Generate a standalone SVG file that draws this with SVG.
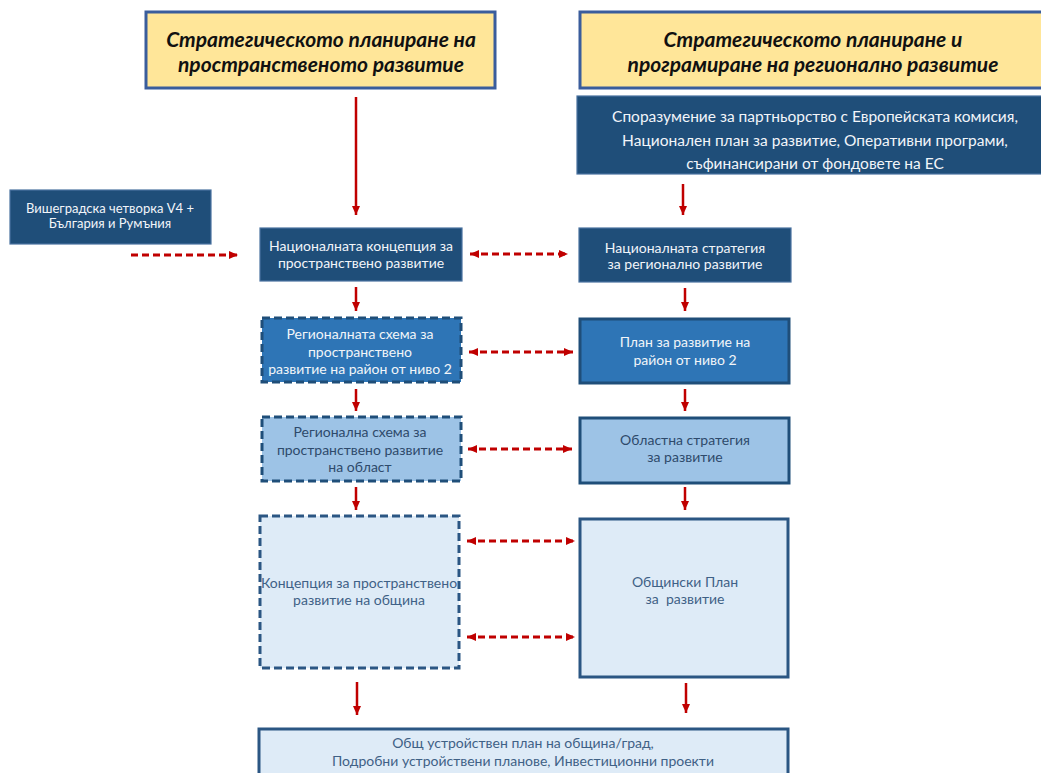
<svg xmlns="http://www.w3.org/2000/svg" width="1041" height="773" viewBox="0 0 1041 773">
<style>
text{font-family:Lato,"Open Sans","Liberation Sans",sans-serif;text-anchor:middle}
.title{font-size:21px;font-weight:bold;font-style:italic;fill:#111}
.yel{fill:#FFE699;stroke:#3A5D9C;stroke-width:3}
.dark{fill:#1F4E79;stroke:#4A72A0;stroke-width:1.2}
.med{fill:#2E75B6;stroke:#1F4E79;stroke-width:3}
.lt{fill:#9DC3E6;stroke:#1F4E79;stroke-width:3}
.vlt{fill:#DEEBF7;stroke:#2B5683;stroke-width:3}
.dsh{stroke-dasharray:8 4}
.w{fill:#F2F5F9;font-size:14px}
.d{fill:#2E4A6B;font-size:14px}
.c{fill:#3F6186;font-size:14px}
.sol{stroke:#C00000;stroke-width:2.5;fill:none;marker-end:url(#ah)}
.dash{stroke:#C00000;stroke-width:2.8;fill:none;stroke-dasharray:7 4}
</style>
<defs>
<marker id="ah" markerUnits="userSpaceOnUse" markerWidth="10" markerHeight="10" refX="9" refY="5" orient="auto"><path d="M0,1 L9,5 L0,9 Z" fill="#C00000"/></marker>
<marker id="as" markerUnits="userSpaceOnUse" markerWidth="10" markerHeight="10" refX="1" refY="5" orient="auto"><path d="M10,1 L1,5 L10,9 Z" fill="#C00000"/></marker>
</defs>
<g id="title-left"><rect class="yel" x="146" y="12" width="349" height="76"/><text class="title" x="321" y="47">Стратегическото планиране на</text><text class="title" x="321" y="72">пространственото развитие</text></g>
<g id="title-right"><rect class="yel" x="580" y="12" width="470" height="76"/><text class="title" x="813" y="47">Стратегическото планиране и</text><text class="title" x="813" y="72">програмиране на регионално развитие</text></g>
<g id="partnership"><rect class="dark" x="577" y="96" width="470" height="78"/><text class="w" style="font-size:15.5px" x="815" y="122">Споразумение за партньорство с Европейската комисия,</text><text class="w" style="font-size:15.5px" x="815" y="146">Национален план за развитие, Оперативни програми,</text><text class="w" style="font-size:15.5px" x="815" y="169">съфинансирани от фондовете на ЕС</text></g>
<g id="v4"><rect class="dark" x="10" y="190" width="201" height="54"/><text class="w" style="font-size:13px" x="110" y="213">Вишеградска четворка V4 +</text><text class="w" style="font-size:13px" x="110" y="228">България и Румъния</text></g>
<g id="nat-concept"><rect class="dark" x="260" y="228" width="202" height="53"/><text class="w" x="361" y="251">Националната концепция за</text><text class="w" x="361" y="268">пространствено развитие</text></g>
<g id="nat-strategy"><rect class="dark" x="579" y="228" width="212" height="54"/><text class="w" x="685" y="253">Националната стратегия</text><text class="w" x="685" y="269">за регионално развитие</text></g>
<g id="reg-scheme"><rect class="med dsh" x="262" y="318" width="199" height="64"/><text class="w" x="360" y="339">Регионалната схема за</text><text class="w" x="360" y="357">пространствено</text><text class="w" x="360" y="374">развитие на район от ниво 2</text></g>
<g id="dev-plan"><rect class="med" x="580" y="319" width="209" height="64"/><text class="w" x="685" y="347">План за развитие на</text><text class="w" x="685" y="365">район от ниво 2</text></g>
<g id="reg-oblast"><rect class="lt dsh" x="262" y="417" width="199" height="64"/><text class="d" x="360" y="437">Регионална схема за</text><text class="d" x="360" y="455">пространствено развитие</text><text class="d" x="360" y="472">на област</text></g>
<g id="oblast-strategy"><rect class="lt" x="580" y="418" width="209" height="65"/><text class="d" x="685" y="445">Областна стратегия</text><text class="d" x="685" y="462">за развитие</text></g>
<g id="municipal-concept"><rect class="vlt dsh" x="260" y="516" width="199" height="152"/><text class="c" x="359" y="588">Концепция за пространствено</text><text class="c" x="359" y="605">развитие на община</text></g>
<g id="municipal-plan"><rect class="vlt" x="580" y="519" width="208" height="158"/><text class="c" x="685" y="587">Общински План</text><text class="c" x="685" y="604" xml:space="preserve">за  развитие</text></g>
<g id="master-plan"><rect class="vlt" x="259" y="729" width="529" height="60"/><text class="c" x="523" y="748">Общ устройствен план на община/град,</text><text class="c" x="523" y="766">Подробни устройствени планове, Инвестиционни проекти</text></g>
<g id="connectors">
<line class="sol" x1="356" y1="97" x2="356" y2="215"/>
<line class="sol" x1="683" y1="184" x2="683" y2="215"/>
<line class="dash" x1="131" y1="255" x2="238" y2="255" marker-end="url(#ah)"/>
<line class="dash" x1="470" y1="254" x2="568" y2="254" marker-start="url(#as)" marker-end="url(#ah)"/>
<line class="sol" x1="356" y1="287" x2="356" y2="311"/>
<line class="sol" x1="685" y1="288" x2="685" y2="311"/>
<line class="dash" x1="469" y1="352" x2="573" y2="352" marker-start="url(#as)" marker-end="url(#ah)"/>
<line class="sol" x1="356" y1="389" x2="356" y2="411"/>
<line class="sol" x1="685" y1="389" x2="685" y2="411"/>
<line class="dash" x1="468" y1="449" x2="572" y2="449" marker-start="url(#as)" marker-end="url(#ah)"/>
<line class="sol" x1="356" y1="487" x2="356" y2="510"/>
<line class="sol" x1="685" y1="487" x2="685" y2="510"/>
<line class="dash" x1="467" y1="541" x2="575" y2="541" marker-start="url(#as)" marker-end="url(#ah)"/>
<line class="dash" x1="467" y1="637" x2="575" y2="637" marker-start="url(#as)" marker-end="url(#ah)"/>
<line class="sol" x1="357" y1="682" x2="357" y2="715"/>
<line class="sol" x1="686" y1="683" x2="686" y2="713"/>
</g>
</svg>
